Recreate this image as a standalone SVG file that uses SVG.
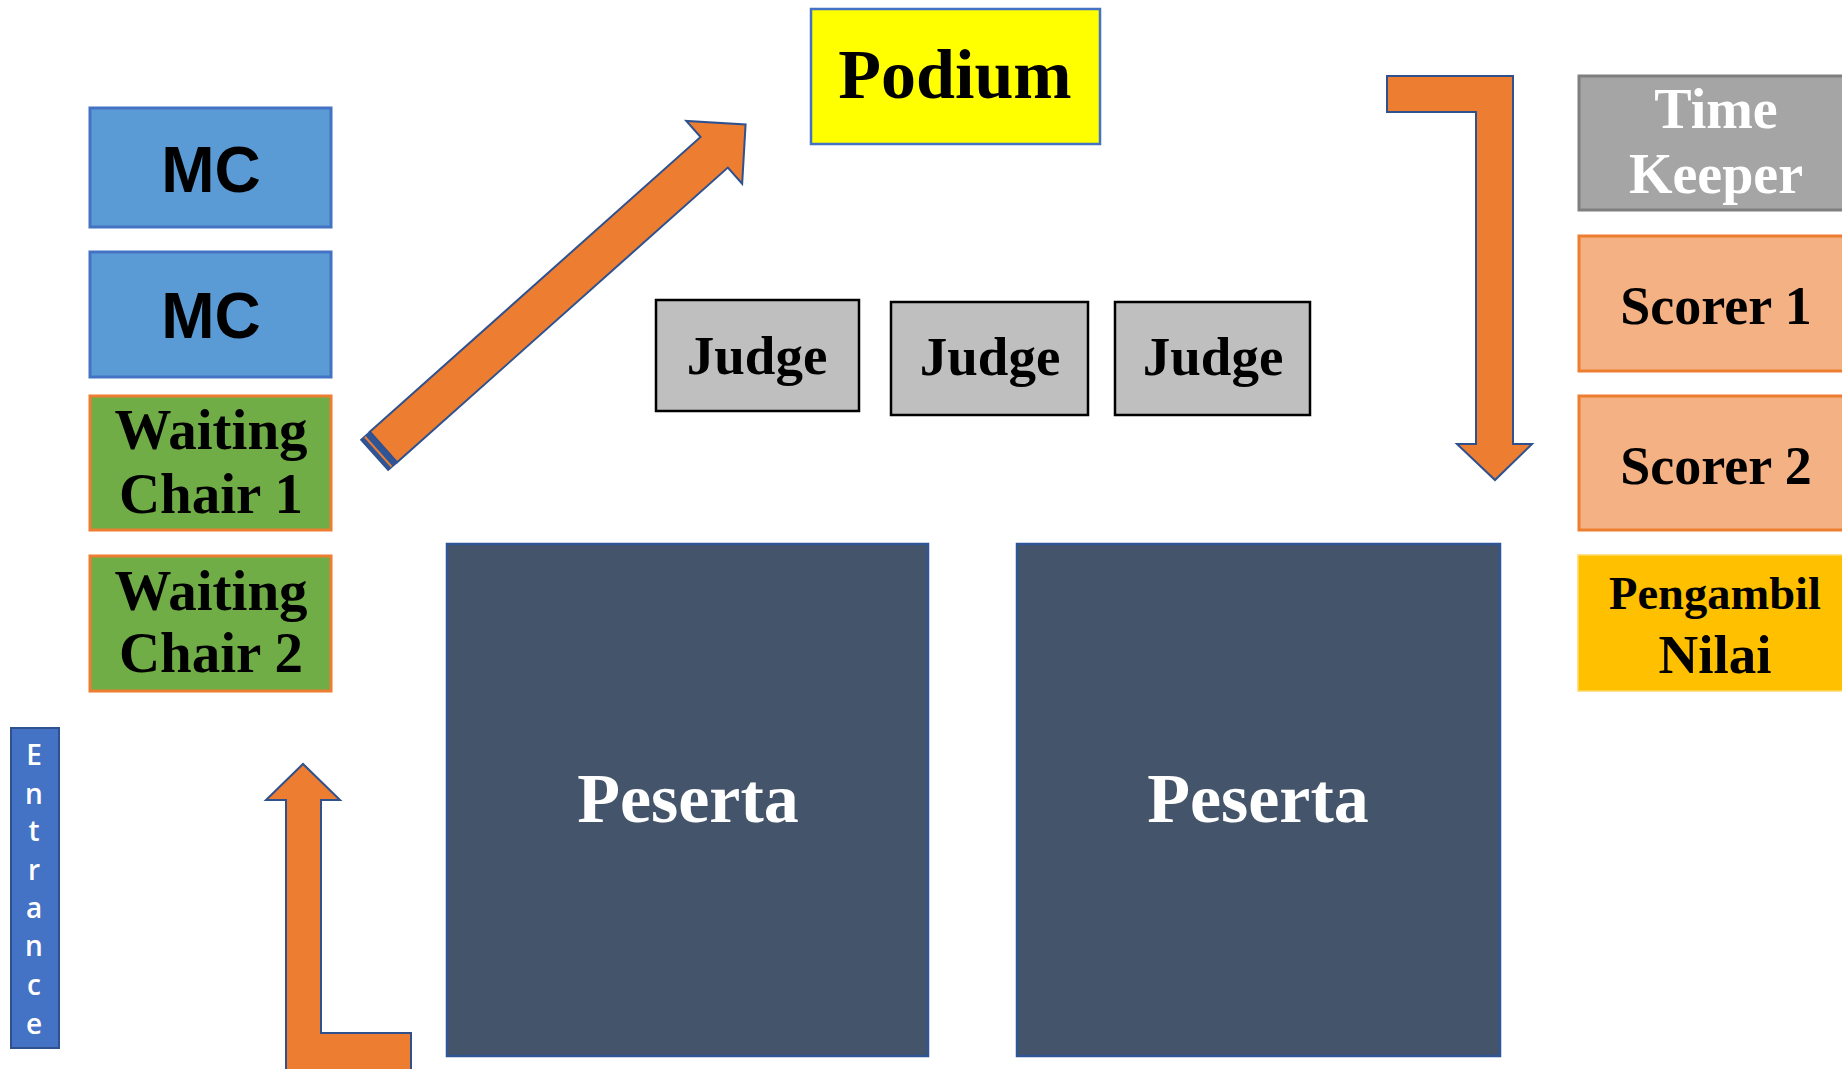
<svg xmlns="http://www.w3.org/2000/svg" width="1842" height="1069" viewBox="0 0 1842 1069">
<style>
.serif{font-family:"Liberation Serif","DejaVu Serif",serif;font-weight:bold;text-anchor:middle}
.sans{font-family:"Liberation Sans",Arial,sans-serif;font-weight:bold;text-anchor:middle}
.mc{fill:#5B9BD5;stroke:#4472C4;stroke-width:3}
.wait{fill:#70AD47;stroke:#ED7D31;stroke-width:3}
.judge{fill:#BFBFBF;stroke:#000;stroke-width:2.5}
.scorer{fill:#F4B183;stroke:#ED7D31;stroke-width:3}
.peserta{fill:#44546A;stroke:#2F5597;stroke-width:2.5}
.arrow{fill:#ED7D31;stroke:#2F528F;stroke-width:2;stroke-linejoin:miter}
</style>
<rect width="1842" height="1069" fill="#fff"/>

<g id="mc1"><rect class="mc" x="90" y="108" width="241" height="119"/><text class="sans" x="211" y="192" font-size="64">MC</text></g>
<g id="mc2"><rect class="mc" x="90" y="252" width="241" height="125"/><text class="sans" x="211" y="338" font-size="64">MC</text></g>
<g id="waiting1"><rect class="wait" x="90" y="396" width="241" height="134"/><text class="serif" x="211" y="449" font-size="57">Waiting</text><text class="serif" x="211" y="513" font-size="57">Chair 1</text></g>
<g id="waiting2"><rect class="wait" x="90" y="556" width="241" height="135"/><text class="serif" x="211" y="610" font-size="57">Waiting</text><text class="serif" x="211" y="672" font-size="57">Chair 2</text></g>

<g id="entrance"><rect x="11" y="728" width="48" height="320" fill="#4472C4" stroke="#2F528F" stroke-width="2"/>
<g font-family="'Open Sans','Liberation Sans',sans-serif" font-weight="600" font-size="28" fill="#fff" text-anchor="middle">
<text x="34" y="765">E</text><text x="34" y="804">n</text><text x="34" y="841">t</text><text x="34" y="880">r</text><text x="34" y="918">a</text><text x="34" y="956">n</text><text x="34" y="995">c</text><text x="34" y="1034">e</text></g></g>

<g id="podium"><rect x="811" y="9" width="289" height="135" fill="#FFFF00" stroke="#4472C4" stroke-width="2.5"/><text class="serif" x="955" y="98" font-size="70">Podium</text></g>

<g id="judge1"><rect class="judge" x="656" y="300" width="203" height="111"/><text class="serif" x="757" y="374" font-size="55">Judge</text></g>
<g id="judge2"><rect class="judge" x="891" y="302" width="197" height="113"/><text class="serif" x="990" y="375" font-size="55">Judge</text></g>
<g id="judge3"><rect class="judge" x="1115" y="302" width="195" height="113"/><text class="serif" x="1213" y="375" font-size="55">Judge</text></g>

<g id="timekeeper"><rect x="1579" y="76" width="280" height="134" fill="#A5A5A5" stroke="#7F7F7F" stroke-width="3"/><text class="serif" x="1716" y="128" font-size="56" fill="#fff">Time</text><text class="serif" x="1716" y="193" font-size="56" fill="#fff">Keeper</text></g>
<g id="scorer1"><rect class="scorer" x="1579" y="236" width="280" height="135"/><text class="serif" x="1716" y="324" font-size="54">Scorer 1</text></g>
<g id="scorer2"><rect class="scorer" x="1579" y="396" width="280" height="134"/><text class="serif" x="1716" y="484" font-size="54">Scorer 2</text></g>
<g id="pengambil"><rect x="1578" y="555" width="280" height="136" fill="#FFC000" stroke="#FFD966" stroke-width="1.5"/><text class="serif" x="1715" y="609" font-size="46.5">Pengambil</text><text class="serif" x="1715" y="673" font-size="55">Nilai</text></g>

<g id="peserta1"><rect class="peserta" x="447" y="544" width="481" height="512"/><text class="serif" x="688" y="822" font-size="70" fill="#fff">Peserta</text></g>
<g id="peserta2"><rect class="peserta" x="1017" y="544" width="483" height="512"/><text class="serif" x="1258" y="822" font-size="70" fill="#fff">Peserta</text></g>

<g id="connectors">
<g transform="translate(374.5,455) rotate(-41.7)">
<polygon class="arrow" points="12,-20.5 455,-20.5 455,-42 497,0 455,42 455,20.5 12,20.5"/>
<rect x="0" y="-20.5" width="12" height="41" fill="#2F5597" stroke="#2F528F" stroke-width="1.5"/>
<line x1="5" y1="-20" x2="5" y2="20" stroke="#ED7D31" stroke-width="2"/>
</g>
<polygon class="arrow" points="1387,76 1513,76 1513,444 1532,444 1495,480 1457,444 1476,444 1476,112 1387,112"/>
<polygon class="arrow" points="286,1075 286,800 266,800 303,764 340,800 321,800 321,1033 411,1033 411,1075"/>
</g>
</svg>
